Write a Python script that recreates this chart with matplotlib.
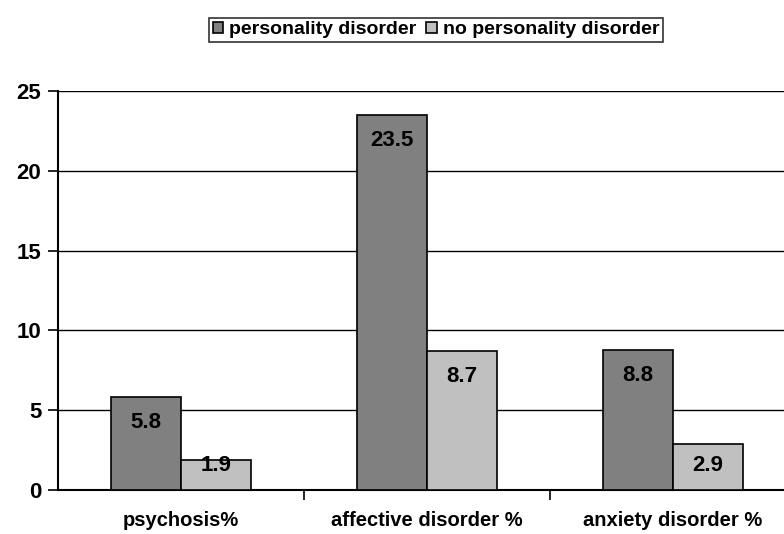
import matplotlib.pyplot as plt
import numpy as np

# du lieu
categories = ['psychosis%', 'affective disorder %', 'anxiety disorder %']
series_names = ['personality disorder', 'no personality disorder']
pd_values = [5.8, 23.5, 8.8]
no_pd_values = [1.9, 8.7, 2.9]
colors = ['#808080', '#C0C0C0']

plt.rcParams['font.family'] = ['Liberation Sans', 'DejaVu Sans']
plt.rcParams['font.weight'] = 'bold'

fig = plt.figure(figsize=(7.84, 5.34), dpi=100)
# truc keo dai qua mep phai giong anh goc
ax = fig.add_axes([58 / 784, 44 / 534, 738 / 784, 399 / 534])

x = np.arange(len(categories))
w = 0.285
b1 = ax.bar(x - w / 2, pd_values, w, color=colors[0], edgecolor='black',
            linewidth=1.2, label=series_names[0], zorder=3)
b2 = ax.bar(x + w / 2, no_pd_values, w, color=colors[1], edgecolor='black',
            linewidth=1.2, label=series_names[1], zorder=3)

# nhan gia tri ben trong dau cot
for bars, vals in [(b1, pd_values), (b2, no_pd_values)]:
    for r, v in zip(bars, vals):
        ty = max(v - 1.6, 1.56)
        ax.text(r.get_x() + r.get_width() / 2, ty, f'{v:.1f}', ha='center',
                va='center', fontsize=16, fontweight='bold', zorder=4)

ax.set_xlim(-0.5, 2.5)
ax.set_ylim(0, 25)
ax.set_yticks([0, 5, 10, 15, 20, 25])
ax.yaxis.grid(True, color='black', linewidth=1.0, zorder=0)
ax.set_xticks([0.5, 1.5], minor=False)
ax.set_xticklabels([])
ax.set_xticks(x, minor=True)
ax.set_xticklabels(categories, minor=True, fontsize=14.5, fontweight='bold')
ax.tick_params(axis='x', which='minor', length=0, pad=15)
ax.tick_params(axis='x', which='major', length=7, width=1.2, direction='out')
ax.tick_params(axis='y', length=7, width=1.2, labelsize=16, pad=5)
for lab in ax.get_yticklabels():
    lab.set_fontweight('bold')

for s in ['top', 'right']:
    ax.spines[s].set_visible(False)
ax.spines['left'].set_linewidth(1.5)
ax.spines['bottom'].set_linewidth(1.5)

leg = fig.legend(loc='center', bbox_to_anchor=(436 / 784, 1 - 30 / 534), ncol=2,
                 frameon=True, fancybox=False, edgecolor='black',
                 prop={'weight': 'bold', 'size': 14}, handlelength=0.55,
                 handleheight=0.55, handletextpad=0.3, columnspacing=0.5,
                 borderpad=0.2, borderaxespad=0)
leg.get_frame().set_linewidth(1.2)

fig.savefig('out.png', dpi=100)
